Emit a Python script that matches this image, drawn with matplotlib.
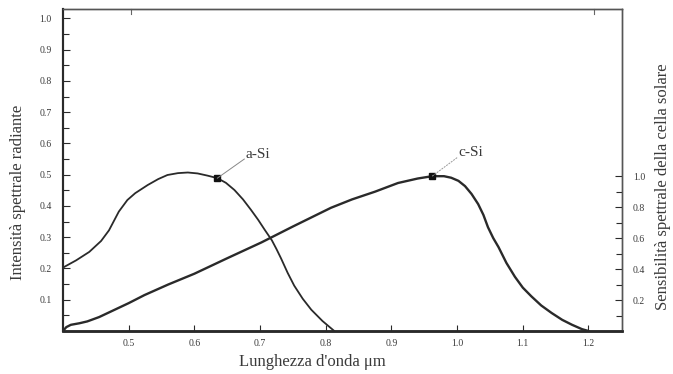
import matplotlib
matplotlib.use("Agg")
import matplotlib.pyplot as plt
from matplotlib.ticker import MultipleLocator, FixedLocator, FormatStrFormatter

# --- data ---
a_si_x = [0.401, 0.420, 0.440, 0.458, 0.470, 0.485, 0.498, 0.510, 0.529, 0.545,
          0.559, 0.575, 0.590, 0.605, 0.620, 0.635, 0.648, 0.661, 0.674, 0.686,
          0.697, 0.707, 0.718, 0.725, 0.732, 0.742, 0.752, 0.765, 0.778, 0.795, 0.813]
a_si_y = [0.204, 0.226, 0.253, 0.288, 0.322, 0.382, 0.419, 0.441, 0.467, 0.486,
          0.499, 0.505, 0.507, 0.504, 0.497, 0.489, 0.474, 0.451, 0.421, 0.388,
          0.356, 0.324, 0.290, 0.262, 0.232, 0.186, 0.145, 0.103, 0.068, 0.032, 0.0]

# c-Si sensitivity in right-axis units
c_si_x = [0.400, 0.405, 0.412, 0.425, 0.437, 0.455, 0.473, 0.500, 0.524, 0.560,
          0.600, 0.650, 0.702, 0.750, 0.808, 0.840, 0.875, 0.910, 0.940, 0.962,
          0.980, 0.991, 1.002, 1.012, 1.022, 1.032, 1.040, 1.047, 1.055, 1.063,
          1.075, 1.088, 1.100, 1.113, 1.128, 1.144, 1.160, 1.175, 1.190, 1.200]
c_si_y = [0.0, 0.025, 0.040, 0.050, 0.062, 0.090, 0.126, 0.180, 0.232, 0.300,
          0.370, 0.470, 0.572, 0.675, 0.796, 0.850, 0.900, 0.956, 0.985, 1.0,
          1.0, 0.990, 0.970, 0.936, 0.885, 0.820, 0.750, 0.670, 0.600, 0.542,
          0.440, 0.350, 0.280, 0.224, 0.165, 0.116, 0.072, 0.040, 0.012, 0.0]

a_si_mark = (0.635, 0.489)
c_si_mark = (0.962, 1.0)

x_ticks = [0.5, 0.6, 0.7, 0.8, 0.9, 1.0, 1.1, 1.2]
left_ticks = [0.1, 0.2, 0.3, 0.4, 0.5, 0.6, 0.7, 0.8, 0.9, 1.0]
right_ticks = [0.2, 0.4, 0.6, 0.8, 1.0]
right_minor = [0.1, 0.3, 0.5, 0.7, 0.9]

plt.rcParams['font.family'] = ['Liberation Serif', 'DejaVu Serif']
ink = '#2a2a2a'
txt = '#3a3a3a'

fig = plt.figure(figsize=(6.73, 3.74), dpi=100)
ax = fig.add_axes([63/673, 43/374, (622-63)/673, (331-9)/374])
ax2 = ax.twinx()

ax.set_xlim(0.40, 1.251)
ax.set_ylim(0, 1.03)
ax2.set_ylim(0, 2.08)

ax.plot(a_si_x, a_si_y, color=ink, lw=1.3, solid_capstyle='round', solid_joinstyle='round')
ax2.plot(c_si_x, c_si_y, color=ink, lw=1.7, solid_capstyle='round', solid_joinstyle='round')

ax.plot(*a_si_mark, 's', color='#111', ms=4)
ax2.plot(*c_si_mark, 's', color='#111', ms=4)

# leaders and labels
ax.plot([a_si_mark[0], 0.676], [a_si_mark[1], 0.55], color='#888', lw=0.7)
ax.text(0.678, 0.565, 'a-Si', fontsize=11, color=txt, ha='left', va='center')
ax2.plot([c_si_mark[0], 1.0], [c_si_mark[1], 1.12], color='#999', lw=0.7, ls=(0, (2, 1)))
ax2.text(1.002, 1.15, 'c-Si', fontsize=11, color=txt, ha='left', va='center')

# ticks
ax.xaxis.set_major_locator(FixedLocator(x_ticks))
ax.xaxis.set_major_formatter(FormatStrFormatter('%.1f'))
ax.yaxis.set_major_locator(FixedLocator(left_ticks))
ax.yaxis.set_major_formatter(FormatStrFormatter('%.1f'))
ax.yaxis.set_minor_locator(MultipleLocator(0.05))
ax.tick_params(axis='x', which='major', direction='in', length=4, width=0.8,
               labelsize=7, colors=ink, labelcolor=txt, pad=6, top=False)
ax.tick_params(axis='y', which='major', direction='in', length=5, width=0.8,
               labelsize=7, colors=ink, labelcolor=txt, pad=8, right=False)
ax.tick_params(axis='y', which='minor', direction='in', length=4, width=0.8,
               colors=ink, right=False)

ax2.yaxis.set_major_locator(FixedLocator(right_ticks))
ax2.yaxis.set_minor_locator(FixedLocator(right_minor))
ax2.yaxis.set_major_formatter(FormatStrFormatter('%.1f'))
ax2.tick_params(axis='y', which='major', direction='in', length=5, width=0.8,
                labelsize=7, colors=ink, labelcolor=txt, pad=8)
ax2.tick_params(axis='y', which='minor', direction='in', length=4, width=0.8,
                colors=ink)

for a in (ax, ax2):
    for s in a.spines.values():
        s.set_color(ink)
        s.set_linewidth(1.0)
    a.spines['bottom'].set_linewidth(1.8)
    a.spines['left'].set_linewidth(1.5)
    a.spines['right'].set_color('#555')
    a.spines['top'].set_color('#555')

# small ticks on top spine
for xv in (0.503, 1.208):
    ax.plot([xv, xv], [1.03, 1.015], color='#666', lw=0.8, clip_on=False)

fig.text(18/673, 1 - 192/374, 'Intensità spettrale radiante', rotation=90,
         fontsize=12, color=txt, ha='center', va='center')
fig.text(663/673, 1 - 187/374, 'Sensibilità spettrale della cella solare', rotation=90,
         fontsize=12, color=txt, ha='center', va='center')
fig.text(312/673, 1 - 362/374, "Lunghezza d'onda μm", fontsize=12, color=txt,
         ha='center', va='center')

fig.savefig('out.png', dpi=100)
